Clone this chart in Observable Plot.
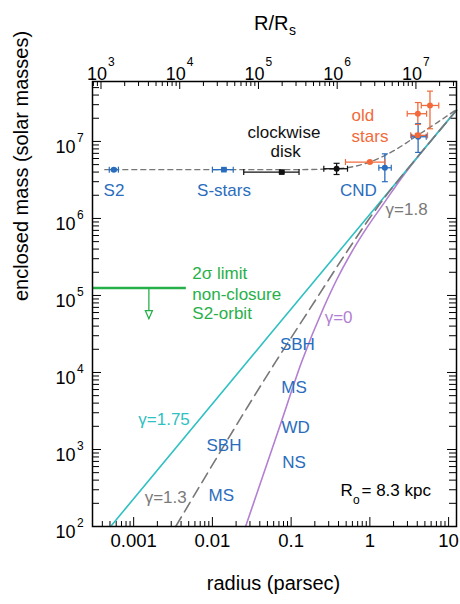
<!DOCTYPE html>
<html><head><meta charset="utf-8">
<script src="https://cdn.jsdelivr.net/npm/d3@7"></script>
<script src="https://cdn.jsdelivr.net/npm/@observablehq/plot@0.6"></script>
<style>body{margin:0;background:#fff;} svg{display:block}</style>
</head><body><div id="chart"></div>
<script>
// ---------- data ----------
const xDomain = [3.0e-4, 12.6];          // radius (pc)
const yDomain = [100, 6.0e7];            // enclosed mass (solar masses)
const pcToRs = 2.6e6;                    // 1 pc in Schwarzschild radii
const xTickValues = [0.001, 0.01, 0.1, 1, 10];
const xTickLabels = ["0.001", "0.01", "0.1", "1", "10"];
const yExponents = [2, 3, 4, 5, 6, 7];
const topExponents = [3, 4, 5, 6, 7];

const measurements = [
  {group: "S2",      r: 5.6e-4, rLo: 4.9e-4, rHi: 6.4e-4, m: 4.3e6,  mLo: 4.15e6, mHi: 4.45e6},
  {group: "S-stars", r: 0.014,  rLo: 0.010,  rHi: 0.0184, m: 4.3e6,  mLo: 4.2e6,  mHi: 4.4e6},
  {group: "disk",    r: 0.076,  rLo: 0.025,  rHi: 0.126,  m: 4.0e6,  mLo: 3.9e6,  mHi: 4.1e6},
  {group: "disk2",   r: 0.378,  rLo: 0.26,   rHi: 0.52,   m: 4.42e6, mLo: 3.72e6, mHi: 5.2e6},
  {group: "old",     r: 1.0,    rLo: 0.49,   rHi: 1.54,   m: 5.4e6,  mLo: 5.25e6, mHi: 5.55e6},
  {group: "CND",     r: 1.55,   rLo: 1.30,   rHi: 1.87,   m: 4.55e6, mLo: 3.0e6,  mHi: 6.9e6},
  {group: "CND",     r: 4.1,    rLo: 3.4,    rHi: 5.2,    m: 1.15e7, mLo: 7.2e6,  mHi: 1.7e7},
  {group: "old",     r: 4.07,   rLo: 3.3,    rHi: 5.4,    m: 1.2e7,  mLo: 1.13e7, mHi: 1.27e7},
  {group: "old",     r: 4.07,   rLo: 2.98,   rHi: 5.25,   m: 2.29e7, mLo: 1.66e7, mHi: 3.2e7},
  {group: "old",     r: 5.8,    rLo: 4.5,    rHi: 7.5,    m: 2.93e7, mLo: 1.46e7, mHi: 4.5e7}
];

// model curves [radius pc, mass]
const totalMassModel = [[4.3e-4,4.3e6],[0.1,4.3e6],[0.378,4.42e6],[0.96,5.33e6],[2.25,8.1e6],[4.04,1.2e7],[7.25,1.77e7],[12.6,2.6e7]];
const cuspGamma175 = [[5.1e-4,100],[0.055,3.2e4],[4.2,6.6e6],[12.6,2.54e7]];
const cuspGamma13 = [[3.42e-3,100],[0.0635,1.37e4],[0.195,8.09e4],[0.525,3.86e5],[1.02,1.05e6],[1.585,1.94e6],[2.51,3.5e6],[4.2,6.6e6],[12.6,2.54e7]];
const cuspGamma0 = [[0.0264,100],[0.0736,2.16e3],[0.137,1.40e4],[0.261,7.08e4],[0.386,1.66e5],[0.57,3.47e5],[0.929,7.76e5],[1.51,1.58e6],[2.5,3.31e6],[4.2,6.58e6],[12.6,2.54e7]];

// 2-sigma limit from S2 orbit non-closure
const limitMass = 1.25e5;
const limitEndR = 4.6e-3;
const limitArrow = {r: 1.56e-3, from: 1.25e5, to: 5.0e4};

// annotations (data coordinates)
const labels = [
  {text: "S2",       r: 5.62e-4, m: 2.31e6, kind: "blue"},
  {text: "S-stars",  r: 0.01403, m: 2.31e6, kind: "blue"},
  {text: "CND",      r: 0.713,   m: 2.31e6, kind: "blue"},
  {text: "clockwise",r: 0.0811,  m: 1.30e7, kind: "black"},
  {text: "disk",     r: 0.0851,  m: 7.48e6, kind: "black"},
  {text: "γ=1.8",    r: 2.93,    m: 1.30e6, kind: "gray"},
  {text: "SBH",      r: 0.12,    m: 2.31e4, kind: "blue"},
  {text: "γ=0",      r: 0.401,   m: 5.22e4, kind: "purple"},
  {text: "MS",       r: 0.109,   m: 6.32e3, kind: "blue"},
  {text: "WD",       r: 0.114,   m: 1.95e3, kind: "blue"},
  {text: "NS",       r: 0.109,   m: 684,    kind: "blue"},
  {text: "γ=1.75",   r: 2.43e-3, m: 2.43e3, kind: "cyan"},
  {text: "SBH",      r: 0.01403, m: 1127,   kind: "blue"},
  {text: "γ=1.3",    r: 2.55e-3, m: 240,    kind: "gray"},
  {text: "MS",       r: 0.013,   m: 253,    kind: "blue"}
];
const leftLabels = [
  {text: "old",         r: 0.586,   m: 2.18e7, kind: "orange"},
  {text: "stars",       r: 0.586,   m: 1.16e7, kind: "orange"},
  {text: "2σ limit",    r: 5.56e-3, m: 1.91e5, kind: "green"},
  {text: "non-closure", r: 5.56e-3, m: 1.02e5, kind: "green"},
  {text: "S2-orbit",    r: 5.56e-3, m: 5.78e4, kind: "green"}
];

// ---------- styles ----------
const C = {blue: "#2a6dbd", black: "#111", gray: "#7a7a7a", purple: "#b27fd2", cyan: "#2fc0c2",
           orange: "#f26a3b", green: "#27b04a", dash: "#777"};
const groupColor = {"S2": C.blue, "S-stars": C.blue, "disk": "#111", "disk2": "#111", "old": C.orange, "CND": C.blue};
const squareGroups = new Set(["S-stars", "disk"]);

const W = 460, H = 604, mL = 92, mR = 4, mT = 81, mB = 78;
const PW = W - mL - mR, PH = H - mT - mB;

// minor/major tick positions
const decadesX = d3.range(-4, 2), decadesY = d3.range(1, 8), decadesTop = d3.range(2, 8);
const within = (v, [a, b]) => v >= a * 0.9999 && v <= b * 1.0001;
const xMinor = decadesX.flatMap(k => d3.range(2, 10).map(m => m * 10 ** k)).filter(v => within(v, xDomain));
const yMinor = decadesY.flatMap(k => d3.range(2, 10).map(m => m * 10 ** k)).filter(v => within(v, yDomain));
const yMajor = yExponents.map(e => 10 ** e);
const topMinor = decadesTop.flatMap(k => d3.range(2, 10).map(m => m * 10 ** k / pcToRs)).filter(v => within(v, xDomain));
const topMajor = topExponents.map(e => 10 ** e / pcToRs);

const vCap = {draw(ctx, size) { const h = Math.sqrt(size / Math.PI); ctx.moveTo(0, -h); ctx.lineTo(0, h); }};
const hCap = {draw(ctx, size) { const h = Math.sqrt(size / Math.PI); ctx.moveTo(-h, 0); ctx.lineTo(h, 0); }};
const downTri = {draw(ctx) { ctx.moveTo(-3.5, -8); ctx.lineTo(3.5, -8); ctx.lineTo(0, 0); ctx.closePath(); }};

const xCaps = measurements.flatMap(d => [{r: d.rLo, m: d.m, g: d.group}, {r: d.rHi, m: d.m, g: d.group}]);
const yCaps = measurements.flatMap(d => [{r: d.r, m: d.mLo, g: d.group}, {r: d.r, m: d.mHi, g: d.group}]);

const font = "'Liberation Sans', Arial, Helvetica, sans-serif";

const chart = Plot.plot({
  width: W, height: H,
  marginLeft: mL, marginRight: mR, marginTop: mT, marginBottom: mB,
  x: {type: "log", domain: xDomain, axis: null},
  y: {type: "log", domain: yDomain, axis: null},
  color: {type: "identity"},
  style: {fontFamily: font, background: "white", overflow: "visible"},
  marks: [
    // ticks pointing inward
    Plot.ruleX(xMinor, {x: d => d, insetTop: PH - 5, stroke: "#000"}),
    Plot.ruleX(xTickValues, {x: d => d, insetTop: PH - 9, stroke: "#000"}),
    Plot.ruleX(topMinor, {x: d => d, insetBottom: PH - 5, stroke: "#000"}),
    Plot.ruleX(topMajor, {x: d => d, insetBottom: PH - 8, stroke: "#000"}),
    Plot.ruleY(yMinor, {y: d => d, insetRight: PW - 7, stroke: "#000"}),
    Plot.ruleY(yMajor, {y: d => d, insetRight: PW - 9, stroke: "#000"}),
    Plot.ruleY(yMinor, {y: d => d, insetLeft: PW - 7, stroke: "#000"}),
    Plot.ruleY(yMajor, {y: d => d, insetLeft: PW - 9, stroke: "#000"}),

    // model curves
    Plot.line(cuspGamma0, {x: d => d[0], y: d => d[1], stroke: C.purple, strokeWidth: 1.6, curve: "monotone-x"}),
    Plot.line(cuspGamma175, {x: d => d[0], y: d => d[1], stroke: C.cyan, strokeWidth: 1.6}),
    Plot.line(cuspGamma13, {x: d => d[0], y: d => d[1], stroke: C.dash, strokeWidth: 1.6, strokeDasharray: "11,6", curve: "monotone-x"}),
    Plot.line(totalMassModel, {x: d => d[0], y: d => d[1], stroke: C.dash, strokeWidth: 1.4, strokeDasharray: "5,4", curve: "monotone-x"}),

    // 2 sigma limit
    Plot.link([limitMass], {x1: xDomain[0], x2: limitEndR, y1: d => d, y2: d => d, stroke: C.green, strokeWidth: 2.6}),
    Plot.link([limitArrow], {x1: d => d.r, x2: d => d.r, y1: d => d.from, y2: d => d.to, stroke: C.green, strokeWidth: 1.3}),
    Plot.dot([limitArrow], {x: d => d.r, y: d => d.to, symbol: downTri, fill: "white", stroke: C.green, strokeWidth: 1.3}),

    // error bars
    Plot.link(measurements, {x1: "rLo", x2: "rHi", y1: "m", y2: "m", stroke: d => groupColor[d.group], strokeWidth: 1.3}),
    Plot.link(measurements, {x1: "r", x2: "r", y1: "mLo", y2: "mHi", stroke: d => groupColor[d.group], strokeWidth: 1.3}),
    Plot.dot(xCaps, {x: "r", y: "m", symbol: vCap, r: 3, fill: "none", stroke: d => groupColor[d.g], strokeWidth: 1.2}),
    Plot.dot(yCaps, {x: "r", y: "m", symbol: hCap, r: 3, fill: "none", stroke: d => groupColor[d.g], strokeWidth: 1.2}),
    Plot.dot(measurements.filter(d => squareGroups.has(d.group)), {x: "r", y: "m", symbol: "square", r: 3.2, fill: d => groupColor[d.group], stroke: "none"}),
    Plot.dot(measurements.filter(d => !squareGroups.has(d.group)), {x: "r", y: "m", symbol: "circle", r: 3, fill: d => groupColor[d.group], stroke: "none"}),

    // annotations
    Plot.text(labels, {x: "r", y: "m", text: "text", fill: d => C[d.kind], fontSize: 17, textAnchor: "middle"}),
    Plot.text(leftLabels, {x: "r", y: "m", text: "text", fill: d => C[d.kind], fontSize: 17, textAnchor: "start"}),
    Plot.text(["R"], {frameAnchor: "bottom-right", dx: -116, dy: -31, text: d => d, fontSize: 17, textAnchor: "start", fill: "#000"}),
    Plot.text(["o"], {frameAnchor: "bottom-right", dx: -103.5, dy: -23, text: d => d, fontSize: 12, textAnchor: "start", fill: "#000"}),
    Plot.text(["= 8.3 kpc"], {frameAnchor: "bottom-right", dx: -95, dy: -31, text: d => d, fontSize: 17, textAnchor: "start", fill: "#000"}),

    // tick labels
    Plot.text(xTickValues, {x: d => d, text: (d, i) => xTickLabels[i], frameAnchor: "bottom", dy: 20, fontSize: 18.5, fill: "#000"}),
    Plot.text(yExponents, {y: e => 10 ** e, text: () => "10", frameAnchor: "left", dx: -17, dy: 6, textAnchor: "end", fontSize: 18, fill: "#000"}),
    Plot.text(yExponents, {y: e => 10 ** e, text: e => String(e), frameAnchor: "left", dx: -15.5, dy: -3, textAnchor: "start", fontSize: 12, fill: "#000"}),
    Plot.text(topExponents, {x: e => 10 ** e / pcToRs, text: () => "10", frameAnchor: "top", dx: 6, dy: -14.3, textAnchor: "end", fontSize: 18, fill: "#000"}),
    Plot.text(topExponents, {x: e => 10 ** e / pcToRs, text: e => String(e), frameAnchor: "top", dx: 7, dy: -24.3, textAnchor: "start", fontSize: 12, fill: "#000"}),

    // axis titles
    Plot.text(["enclosed mass (solar masses)"], {frameAnchor: "left", dx: -71, dy: -3, rotate: -90, text: d => d, fontSize: 20, fill: "#000"}),
    Plot.text(["radius (parsec)"], {frameAnchor: "bottom", dx: -1, dy: 63, text: d => d, fontSize: 20, fill: "#000"}),
    Plot.text(["R/R"], {frameAnchor: "top", dx: -3.2, dy: -66, text: d => d, fontSize: 20, fill: "#000"}),
    Plot.text(["s"], {frameAnchor: "top", dx: 14.5, dy: -56, text: d => d, fontSize: 14, textAnchor: "start", fill: "#000"}),

    Plot.frame({stroke: "#000", strokeWidth: 1.5})
  ]
});
document.getElementById("chart").appendChild(chart);
</script>
</body></html>
